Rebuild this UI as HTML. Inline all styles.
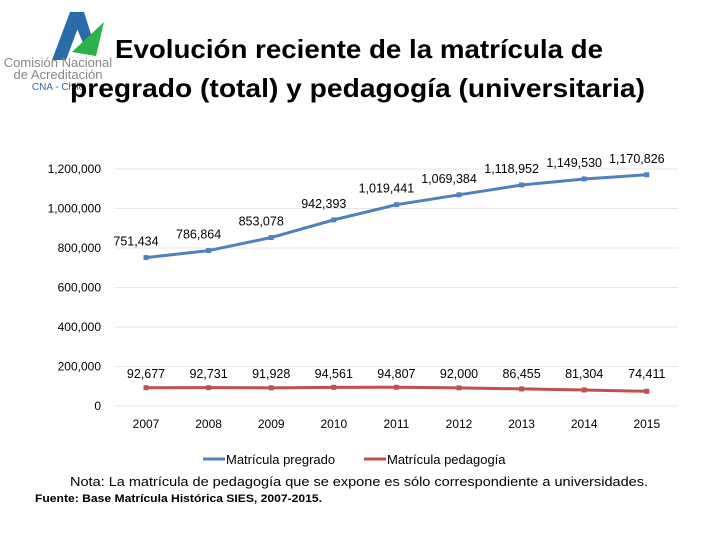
<!DOCTYPE html>
<html><head><meta charset="utf-8"><style>
body{margin:0;background:#fff;width:720px;height:540px;overflow:hidden;font-family:"Liberation Sans",sans-serif;}
svg text{font-family:"Liberation Sans",sans-serif;}
</style></head><body>
<svg width="720" height="540">
<g>
<polygon points="52,60 70,12 84,12 66,60" fill="#2a6ca8"/>
<polygon points="70,12 84,12 96,50 86,50" fill="#2a6ca8"/>
<polygon points="72,52 104,22 96,56" fill="#2bb24c"/>
<text x="58" y="67" font-size="13" fill="#888" text-anchor="middle">Comisión Nacional</text>
<text x="58" y="79" font-size="13" fill="#888" text-anchor="middle">de Acreditación</text>
<text x="58" y="90" font-size="10" fill="#2a6ca8" text-anchor="middle">CNA - Chile</text>
</g>
<text x="115" y="58" font-size="26" font-weight="bold" textLength="488" lengthAdjust="spacingAndGlyphs" fill="#000">Evolución reciente de la matrícula de</text>
<text x="70" y="97" font-size="26" font-weight="bold" textLength="575" lengthAdjust="spacingAndGlyphs" fill="#000">pregrado (total) y pedagogía (universitaria)</text>
<g id="grid"></g><g id="plot"></g>
<g>
<line x1="203" y1="459" x2="225" y2="459" stroke="#4f81bd" stroke-width="3"/>
<text x="226" y="464" font-size="13">Matrícula pregrado</text>
<line x1="364" y1="459" x2="386" y2="459" stroke="#c0504d" stroke-width="3"/>
<text x="387" y="464" font-size="13">Matrícula pedagogía</text>
</g>
<text x="70" y="486" font-size="12.5" textLength="578" lengthAdjust="spacingAndGlyphs">Nota: La matrícula de pedagogía que se expone es sólo correspondiente a universidades.</text>
<text x="35" y="502" font-size="11" font-weight="bold" textLength="287" lengthAdjust="spacingAndGlyphs">Fuente: Base Matrícula Histórica SIES, 2007-2015.</text>
</svg>
<script>
const years=["2007","2008","2009","2010","2011","2012","2013","2014","2015"];
const pregrado=[751434,786864,853078,942393,1019441,1069384,1118952,1149530,1170826];
const pedagogia=[92677,92731,91928,94561,94807,92000,86455,81304,74411];
const yTicks=[0,200000,400000,600000,800000,1000000,1200000];
const NS="http://www.w3.org/2000/svg";
const x=i=>146+i*62.6;
const y=v=>406-v/200000*39.5;
const fmt=v=>v.toLocaleString("en-US");
function mk(tag,attrs,parent,txt){const e=document.createElementNS(NS,tag);for(const k in attrs)e.setAttribute(k,attrs[k]);if(txt!=null)e.textContent=txt;parent.appendChild(e);return e;}
const grid=document.getElementById("grid"),plot=document.getElementById("plot");
yTicks.forEach(t=>{
 const l=mk("line",{x1:115,x2:678,y1:y(t),y2:y(t),stroke:"#e6e6e6","stroke-width":1},grid);
 
 
 const tx=mk("text",{x:101,y:y(t)+4,"font-size":12,"text-anchor":"end"},grid,fmt(t));
 
 
});
years.forEach((yr,i)=>{
 const tx=mk("text",{x:x(i),y:428,"font-size":12,"text-anchor":"middle"},grid,yr);
 
 
});
function series(vals,color,name,labelY,dx){
 const p=mk("polyline",{points:vals.map((v,i)=>x(i)+","+y(v)).join(" "),fill:"none",stroke:color,"stroke-width":3},plot);
 
 
 vals.forEach((v,i)=>{
  const m=mk("rect",{x:x(i)-2.5,y:y(v)-2.5,width:5,height:5,fill:color},plot);
  
  
  const t=mk("text",{x:x(i)+dx,y:labelY(v),"font-size":12.5,"text-anchor":"middle"},plot,fmt(v));
  
  
 });
}
series(pregrado,"#4f81bd","pregrado",v=>y(v)-12,-10);
series(pedagogia,"#c0504d","pedagogia",v=>378,0);
</script>
</body></html>
